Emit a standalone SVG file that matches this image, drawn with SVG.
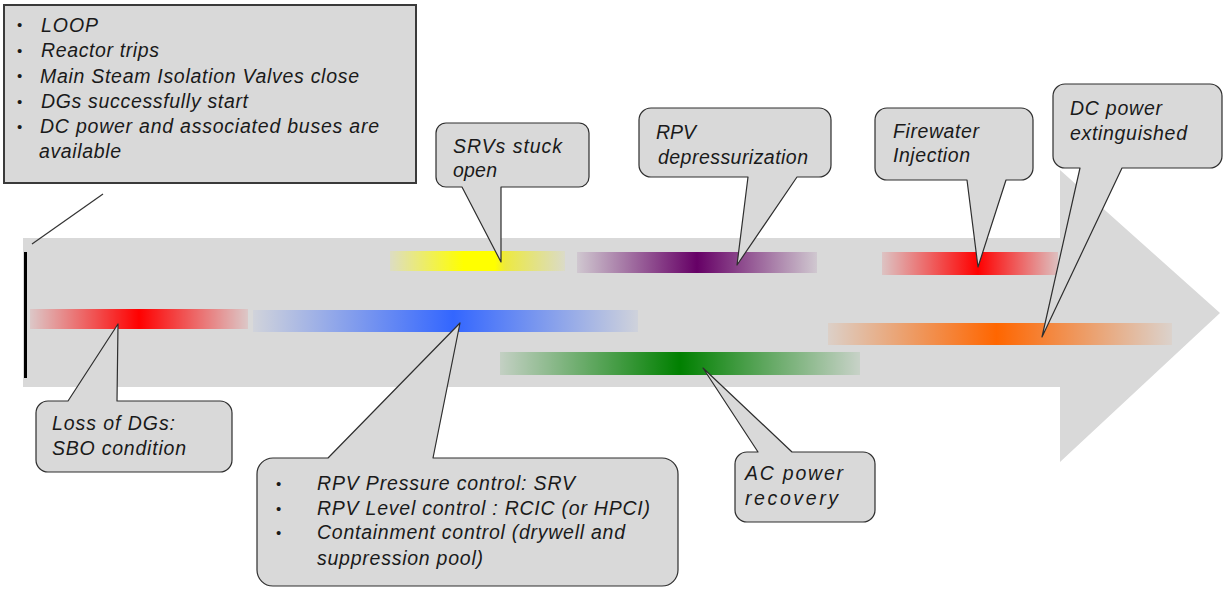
<svg xmlns="http://www.w3.org/2000/svg" width="1225" height="590" viewBox="0 0 1225 590">
  <style>
    .lbl { font-family: "Liberation Sans", Arial, sans-serif; font-style: italic; font-size: 19.5px; fill: #1a1a1a; }
    .dot { font-family: "Liberation Sans", Arial, sans-serif; font-size: 15px; fill: #1a1a1a; }
    .call { fill: #d9d9d9; stroke: #2e2e2e; stroke-width: 1.2; stroke-linejoin: round; }
    .box { fill: #d9d9d9; stroke: #3a3a3a; stroke-width: 2; }
    .link { stroke: #333; stroke-width: 1.2; fill: none; }
  </style>
  <defs>
    <linearGradient id="gRed1">
      <stop offset="0" stop-color="#ff0000" stop-opacity="0.08"/>
      <stop offset="0.5" stop-color="#ff0000" stop-opacity="1"/>
      <stop offset="1" stop-color="#ff0000" stop-opacity="0.08"/>
    </linearGradient>
    <linearGradient id="gBlue">
      <stop offset="0" stop-color="#3366ff" stop-opacity="0.05"/>
      <stop offset="0.52" stop-color="#3366ff" stop-opacity="1"/>
      <stop offset="1" stop-color="#3366ff" stop-opacity="0.06"/>
    </linearGradient>
    <linearGradient id="gYellow">
      <stop offset="0" stop-color="#ffff00" stop-opacity="0.1"/>
      <stop offset="0.42" stop-color="#ffff00" stop-opacity="1"/>
      <stop offset="0.6" stop-color="#ffff00" stop-opacity="1"/>
      <stop offset="0.66" stop-color="#f5f000" stop-opacity="0.7"/>
      <stop offset="1" stop-color="#f0f000" stop-opacity="0.08"/>
    </linearGradient>
    <linearGradient id="gPurple">
      <stop offset="0" stop-color="#660066" stop-opacity="0.08"/>
      <stop offset="0.5" stop-color="#660066" stop-opacity="1"/>
      <stop offset="1" stop-color="#660066" stop-opacity="0.08"/>
    </linearGradient>
    <linearGradient id="gRed2">
      <stop offset="0" stop-color="#ff0000" stop-opacity="0.1"/>
      <stop offset="0.545" stop-color="#ff0000" stop-opacity="1"/>
      <stop offset="1" stop-color="#ff0000" stop-opacity="0.12"/>
    </linearGradient>
    <linearGradient id="gOrange">
      <stop offset="0" stop-color="#ff6600" stop-opacity="0.08"/>
      <stop offset="0.49" stop-color="#ff6600" stop-opacity="1"/>
      <stop offset="1" stop-color="#ff6600" stop-opacity="0.06"/>
    </linearGradient>
    <linearGradient id="gGreen">
      <stop offset="0" stop-color="#008000" stop-opacity="0.1"/>
      <stop offset="0.5" stop-color="#008000" stop-opacity="1"/>
      <stop offset="1" stop-color="#008000" stop-opacity="0.08"/>
    </linearGradient>
  </defs>

  <rect width="1225" height="590" fill="#ffffff"/>

  <!-- timeline arrow -->
  <g id="timeline">
    <polygon points="23,238 1060,238 1060,170 1220,313 1060,462 1060,387 23,387" fill="#d9d9d9"/>
    <rect x="24" y="252" width="3" height="126" fill="#000"/>
  </g>

  <!-- event bars -->
  <g id="bars">
    <rect x="30" y="309" width="218" height="20" fill="url(#gRed1)"/>
    <rect x="253" y="310" width="385" height="22" fill="url(#gBlue)"/>
    <rect x="390" y="251" width="175" height="20" fill="url(#gYellow)"/>
    <rect x="577" y="252" width="240" height="21" fill="url(#gPurple)"/>
    <rect x="882" y="252" width="176" height="23" fill="url(#gRed2)"/>
    <rect x="828" y="323" width="344" height="22" fill="url(#gOrange)"/>
    <rect x="500" y="352" width="360" height="23" fill="url(#gGreen)"/>
  </g>

  <!-- connectors -->
  <g id="connectors">
    <line class="link" x1="103" y1="194" x2="32" y2="244"/>
  </g>

  <g id="initial-state">
    <rect class="box" x="4" y="5" width="412" height="178"/>
    <text class="dot" x="17" y="30">•</text>
    <text class="dot" x="17" y="56">•</text>
    <text class="dot" x="17" y="81">•</text>
    <text class="dot" x="17" y="107">•</text>
    <text class="dot" x="17" y="132">•</text>
    <text class="lbl" x="41" y="31.5" textLength="57" lengthAdjust="spacing">LOOP</text>
    <text class="lbl" x="41" y="57" textLength="118" lengthAdjust="spacing">Reactor trips</text>
    <text class="lbl" x="40" y="82.5" textLength="319" lengthAdjust="spacing">Main Steam Isolation Valves close</text>
    <text class="lbl" x="41" y="108" textLength="207" lengthAdjust="spacing">DGs successfully start</text>
    <text class="lbl" x="40" y="133" textLength="339" lengthAdjust="spacing">DC power and associated buses are</text>
    <text class="lbl" x="39" y="158" textLength="82" lengthAdjust="spacing">available</text>
  </g>

  <g id="loss-of-dgs">
    <path class="call" d="M48,401 H68 L118,324 L117,401 H220 A12,12 0 0 1 232,413 V460 A12,12 0 0 1 220,472 H48 A12,12 0 0 1 36,460 V413 A12,12 0 0 1 48,401 Z"/>
    <text class="lbl" x="52" y="430" textLength="123" lengthAdjust="spacing">Loss of DGs:</text>
    <text class="lbl" x="52" y="455" textLength="134" lengthAdjust="spacing">SBO condition</text>
  </g>

  <g id="srv-control">
    <path class="call" d="M273,458 H328 L460,323 L433,458 H662 A16,16 0 0 1 678,474 V570 A16,16 0 0 1 662,586 H273 A16,16 0 0 1 257,570 V474 A16,16 0 0 1 273,458 Z"/>
    <text class="dot" x="276" y="489">•</text>
    <text class="dot" x="276" y="514">•</text>
    <text class="dot" x="276" y="538">•</text>
    <text class="lbl" x="317" y="490" textLength="258" lengthAdjust="spacing">RPV Pressure control: SRV</text>
    <text class="lbl" x="317" y="515" textLength="333" lengthAdjust="spacing">RPV Level control : RCIC (or HPCI)</text>
    <text class="lbl" x="317" y="539" textLength="308" lengthAdjust="spacing">Containment control (drywell and</text>
    <text class="lbl" x="317" y="565" textLength="166" lengthAdjust="spacing">suppression pool)</text>
  </g>

  <g id="srvs-stuck-open">
    <path class="call" d="M446,123 H579 A10,10 0 0 1 589,133 V177 A10,10 0 0 1 579,187 H501 L501,262 L462,187 H446 A10,10 0 0 1 436,177 V133 A10,10 0 0 1 446,123 Z"/>
    <text class="lbl" x="453" y="153" textLength="109" lengthAdjust="spacing">SRVs stuck</text>
    <text class="lbl" x="453" y="177" textLength="44" lengthAdjust="spacing">open</text>
  </g>

  <g id="rpv-depressurization">
    <path class="call" d="M651,108 H819 A12,12 0 0 1 831,120 V165 A12,12 0 0 1 819,177 H797 L737,265 L748,177 H651 A12,12 0 0 1 639,165 V120 A12,12 0 0 1 651,108 Z"/>
    <text class="lbl" x="656" y="139" textLength="40" lengthAdjust="spacing">RPV</text>
    <text class="lbl" x="658" y="164" textLength="150" lengthAdjust="spacing">depressurization</text>
  </g>

  <g id="firewater-injection">
    <path class="call" d="M887,108 H1021 A12,12 0 0 1 1033,120 V168 A12,12 0 0 1 1021,180 H1006 L978,267 L967,180 H887 A12,12 0 0 1 875,168 V120 A12,12 0 0 1 887,108 Z"/>
    <text class="lbl" x="893" y="138" textLength="86" lengthAdjust="spacing">Firewater</text>
    <text class="lbl" x="893" y="162" textLength="77" lengthAdjust="spacing">Injection</text>
  </g>

  <g id="ac-power-recovery">
    <path class="call" d="M747,452 H758 L703,368 L792,452 H863 A12,12 0 0 1 875,464 V510 A12,12 0 0 1 863,522 H747 A12,12 0 0 1 735,510 V464 A12,12 0 0 1 747,452 Z"/>
    <text class="lbl" x="745" y="480" textLength="98" lengthAdjust="spacing">AC power</text>
    <text class="lbl" x="745" y="505" textLength="93" lengthAdjust="spacing">recovery</text>
  </g>

  <g id="dc-power-extinguished">
    <path class="call" d="M1065,84 H1210 A12,12 0 0 1 1222,96 V156 A12,12 0 0 1 1210,168 H1122 L1042,337 L1080,168 H1065 A12,12 0 0 1 1053,156 V96 A12,12 0 0 1 1065,84 Z"/>
    <text class="lbl" x="1070" y="115" textLength="92" lengthAdjust="spacing">DC power</text>
    <text class="lbl" x="1070" y="140" textLength="117" lengthAdjust="spacing">extinguished</text>
  </g>
</svg>
